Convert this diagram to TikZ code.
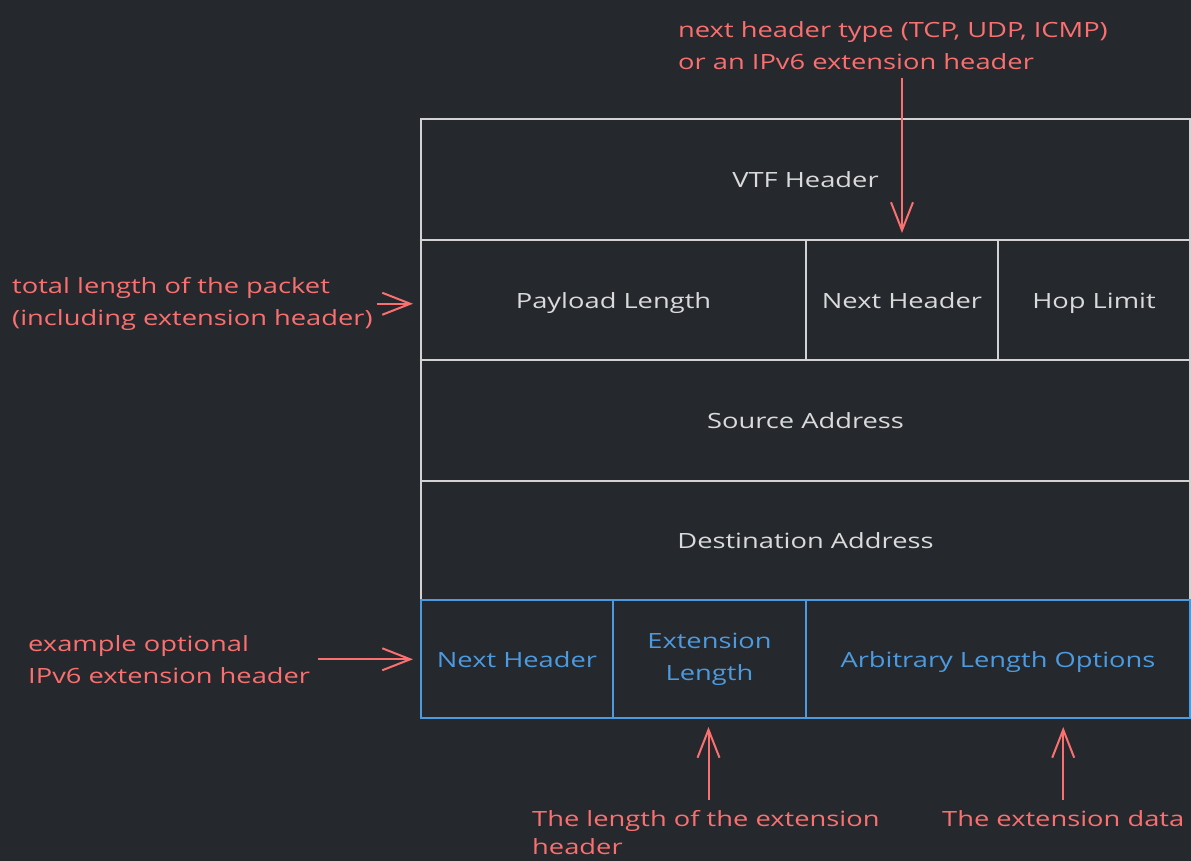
\documentclass[tikz,border=0pt]{standalone}
\usepackage{fontspec}
\setmainfont{Open Sans}[FakeStretch=1.3]
\usetikzlibrary{arrows.meta,calc}
\definecolor{bgdark}{RGB}{37,40,44}
\definecolor{rulegray}{RGB}{210,210,210}
\definecolor{txtgray}{RGB}{218,218,218}
\definecolor{extblue}{RGB}{76,154,224}
\definecolor{notered}{RGB}{250,112,112}
\tikzset{
  cell/.style={draw=rulegray, line width=2pt, anchor=north west, inner sep=0pt,
    outer sep=0pt, text=txtgray, font=\fontsize{21}{32}\selectfont, align=center},
  oneline/.style={text height=19pt, text depth=3pt},
  extcell/.style={cell, draw=extblue, text=extblue},
  note/.style={text=notered, font=\fontsize{21}{32}\selectfont, align=left,
    inner sep=0pt, anchor=north west},
  pointer/.style={draw=notered, line width=2pt,
    -{Straight Barb[length=28pt,width=22pt,line width=2pt]}}
}
\begin{document}
\begin{tikzpicture}[x=1pt,y=-1pt]
  \fill[bgdark] (0,0) rectangle (1191,861);
  \useasboundingbox (0,0) rectangle (1191,861);

  % IPv6 fixed header
  \node[cell, oneline, minimum width=769pt, minimum height=121pt] (vtf) at (421,119) {VTF Header};
  \node[cell, oneline, minimum width=385pt, minimum height=120pt] (pl)  at (421,240) {Payload Length};
  \node[cell, oneline, minimum width=192pt, minimum height=120pt] (nh)  at (806,240) {Next Header};
  \node[cell, oneline, minimum width=192pt, minimum height=120pt] (hop) at (998,240) {Hop Limit};
  \node[cell, oneline, minimum width=769pt, minimum height=121pt] (src) at (421,360) {Source Address};
  \node[cell, oneline, minimum width=769pt, minimum height=119pt] (dst) at (421,481) {Destination Address};

  % optional extension header
  \node[extcell, oneline, minimum width=192pt, minimum height=118pt] (enh) at (421,600) {Next Header};
  \node[extcell, minimum width=193pt, minimum height=118pt] (elen) at (613,600) {Extension\\Length};
  \node[extcell, oneline, minimum width=384pt, minimum height=118pt] (opts) at (806,600) {Arbitrary Length Options};

  % annotations
  \node[note] (nnext) at (678,21) {next header type (TCP, UDP, ICMP)\\or an IPv6 extension header};
  \node[note] (ntotal) at (12,277) {total length of the packet\\(including extension header)};
  \node[note] (nopt) at (28,635) {example optional\\IPv6 extension header};
  \node[note, font=\fontsize{21}{28}\selectfont] (nlen) at (532,810) {The length of the extension\\header};
  \node[note] (ndata) at (942,810) {The extension data};

  \draw[pointer, shorten <=8pt, shorten >=7pt] (nnext.south -| nh.north) -- (nh.north);
  \draw[pointer, shorten <=4pt, shorten >=8pt] (ntotal.east) -- (ntotal.east -| pl.west);
  \draw[pointer, shorten <=8pt, shorten >=8pt] (nopt.east) -- (nopt.east -| enh.west);
  \draw[pointer, shorten <=10pt, shorten >=9pt]
    ([xshift=-1pt]nlen.north -| elen.south) -- ([xshift=-1pt]elen.south);
  \draw[pointer, shorten <=10pt, shorten >=9pt] (ndata.north) -- (ndata.north |- opts.south);
\end{tikzpicture}
\end{document}
